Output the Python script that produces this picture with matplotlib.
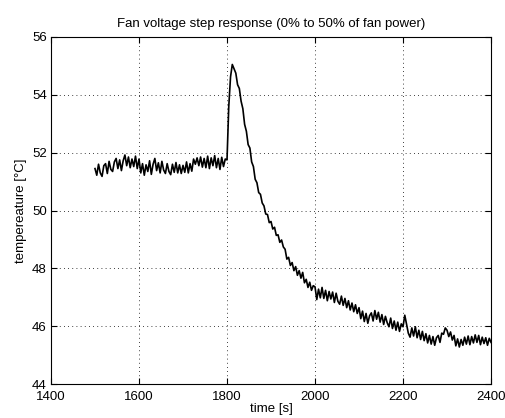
import numpy as np
import matplotlib.pyplot as plt

plt.rcParams['font.family'] = ['Liberation Sans', 'DejaVu Sans']

# sample times [s], one reading every 4 s
t = np.arange(1500, 2401, 4)

# measured temperature [degC]
temp_1500 = [51.45, 51.22, 51.60, 51.30, 51.18, 51.55, 51.62, 51.28, 51.70, 51.42, 51.35, 51.68, 51.80,
             51.45, 51.75, 51.38, 51.72, 51.92, 51.55, 51.85, 51.48, 51.78, 51.52, 51.88, 51.45]
temp_1600 = [51.78, 51.30, 51.62, 51.22, 51.58, 51.35, 51.72, 51.25, 51.60, 51.80, 51.38, 51.65, 51.30,
             51.70, 51.40, 51.28, 51.62, 51.35, 51.24, 51.60, 51.32, 51.66, 51.30, 51.58, 51.28]
temp_1700 = [51.56, 51.32, 51.68, 51.30, 51.62, 51.36, 51.78, 51.60, 51.82, 51.55, 51.85, 51.50, 51.80,
             51.48, 51.88, 51.45, 51.82, 51.55, 51.90, 51.48, 51.80, 51.42, 51.84, 51.52, 51.78]
temp_1800 = [51.75, 53.60, 54.62, 55.05, 54.90, 54.75, 54.35, 54.22, 53.78, 53.52, 52.98, 52.74, 52.28,
             52.16, 51.68, 51.52, 51.08, 50.96, 50.62, 50.56, 50.26, 50.16, 49.88, 49.86, 49.58]
temp_1900 = [49.62, 49.36, 49.42, 49.14, 49.16, 48.90, 48.98, 48.74, 48.66, 48.32, 48.38, 48.10, 48.20,
             47.92, 48.06, 47.76, 47.92, 47.66, 47.86, 47.50, 47.62, 47.34, 47.52, 47.24, 47.40]
temp_2000 = [47.36, 46.92, 47.28, 46.98, 47.34, 46.96, 47.24, 46.88, 47.20, 46.94, 47.18, 46.82, 47.14,
             46.86, 46.76, 47.04, 46.72, 46.96, 46.64, 46.88, 46.56, 46.80, 46.50, 46.74, 46.44]
temp_2100 = [46.64, 46.26, 46.52, 46.16, 46.44, 46.10, 46.36, 46.46, 46.18, 46.54, 46.24, 46.48, 46.14,
             46.40, 46.06, 46.34, 46.12, 45.98, 46.28, 45.92, 46.18, 45.86, 46.14, 45.82, 46.08]
temp_2200 = [45.98, 46.38, 46.06, 45.76, 45.62, 45.94, 45.66, 45.98, 45.60, 45.86, 45.54, 45.82, 45.50,
             45.74, 45.42, 45.68, 45.38, 45.64, 45.34, 45.60, 45.68, 45.44, 45.76, 45.72, 45.94]
temp_2300 = [45.86, 45.64, 45.80, 45.52, 45.68, 45.32, 45.56, 45.28, 45.54, 45.34, 45.62, 45.38, 45.66,
             45.36, 45.64, 45.42, 45.70, 45.44, 45.68, 45.36, 45.62, 45.40, 45.60, 45.34, 45.58, 45.44]

temp = temp_1500 + temp_1600 + temp_1700 + temp_1800 + temp_1900 + temp_2000 + temp_2100 + temp_2200 + temp_2300

fig = plt.figure(figsize=(5.06, 4.18), dpi=100)
ax = fig.add_axes([0.1008, 0.0813, 0.8696, 0.8302])

ax.plot(t, temp, color='black', linewidth=1.2)

ax.set_xlim(1400, 2400)
ax.set_ylim(44, 56)
ax.set_xticks(np.arange(1400, 2401, 200))
ax.set_yticks(np.arange(44, 57, 2))

ax.grid(True, linestyle=(0, (1, 4)), color='black', linewidth=0.6)
ax.tick_params(direction='in', top=True, right=True, labelsize=9.5, length=4, width=0.8)
ax.tick_params(axis='x', pad=5)
ax.tick_params(axis='y', pad=3)
for s in ax.spines.values():
    s.set_linewidth(0.8)

ax.set_title('Fan voltage step response (0% to 50% of fan power)', fontsize=9.5, pad=7)
ax.set_xlabel('time [s]', fontsize=9.5, labelpad=0)
ax.set_ylabel('tempereature [°C]', fontsize=9.5, labelpad=4)

fig.savefig('out.png', dpi=100)
